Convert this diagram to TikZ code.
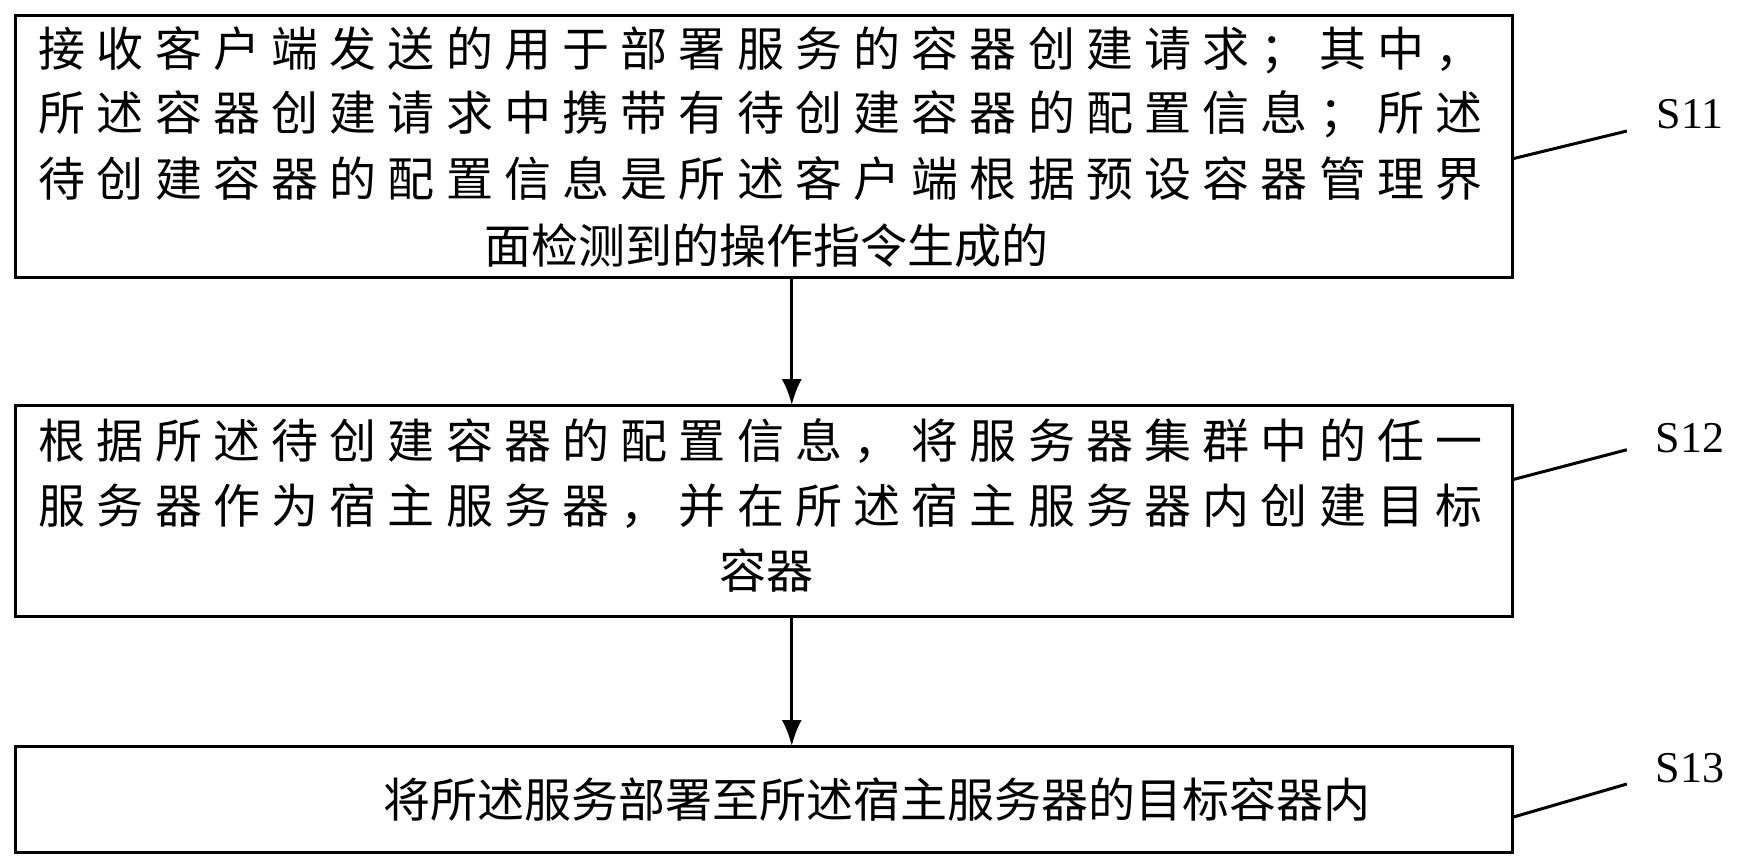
\documentclass[tikz,border=0pt]{standalone}
\usepackage{fontspec}
\usetikzlibrary{arrows.meta}
\newfontfamily\cjk{Noto Sans CJK SC}
\setmainfont{Liberation Serif}
\newcommand\spch[1]{\ifx#1\relax\else#1\hfil\expandafter\spch\fi}
\newcommand\jline[1]{\hbox to 1444pt{\spch#1\relax\unskip}}
\begin{document}
\begin{tikzpicture}[x=1.1105pt,y=-1.1105pt,
  box/.style={draw,line width=3pt},
  txt/.style={font=\cjk\fontsize{47}{54}\selectfont,inner sep=0pt,anchor=center},
  lab/.style={font=\fontsize{44}{50}\selectfont,inner sep=0pt},
  arr/.style={line width=3pt,-{Latex[length=26pt,width=20pt]}},
  lead/.style={line width=3pt}]
\useasboundingbox (0,0) rectangle (1566,781);
\draw[box] (14,14) rectangle (1362,250);
\node[inner sep=0pt,minimum width=1348*1.1105pt,minimum height=236*1.1105pt] (b1) at (688,132) {};
\node[txt] (t11) at (685,45) {\jline{接收客户端发送的用于部署服务的容器创建请求；其中，}};
\node[txt] (t12) at (685,103) {\jline{所述容器创建请求中携带有待创建容器的配置信息；所述}};
\node[txt] (t13) at (685,161) {\jline{待创建容器的配置信息是所述客户端根据预设容器管理界}};
\node[txt] (t14) at (690,221) {面检测到的操作指令生成的};
\draw[box] (14,365) rectangle (1362,555);
\node[inner sep=0pt,minimum width=1348*1.1105pt,minimum height=190*1.1105pt] (b2) at (688,460) {};
\node[txt] (t21) at (685,397) {\jline{根据所述待创建容器的配置信息，将服务器集群中的任一}};
\node[txt] (t22) at (685,456) {\jline{服务器作为宿主服务器，并在所述宿主服务器内创建目标}};
\node[txt] (t23) at (690,514) {容器};
\draw[box] (14,672) rectangle (1362,768);
\node[inner sep=0pt,minimum width=1348*1.1105pt,minimum height=96*1.1105pt] (b3) at (688,720) {};
\node[txt] (t31) at (790,720) {将所述服务部署至所述宿主服务器的目标容器内};
\draw[arr] (b1.south -| 713,0) -- (b2.north -| 713,0);
\draw[arr] (b2.south -| 713,0) -- (b3.north -| 713,0);
\coordinate (l1a) at (1362,143); \coordinate (l1b) at (1465,118);
\coordinate (l2a) at (1362,432); \coordinate (l2b) at (1465,405);
\coordinate (l3a) at (1362,736); \coordinate (l3b) at (1465,706);
\draw[lead] (l1a) -- (l1b); \draw[lead] (l2a) -- (l2b); \draw[lead] (l3a) -- (l3b);
\node[lab] (s11) at (1522,103) {S11};
\node[lab] (s12) at (1522,395) {S12};
\node[lab] (s13) at (1522,692) {S13};
\end{tikzpicture}
\end{document}
